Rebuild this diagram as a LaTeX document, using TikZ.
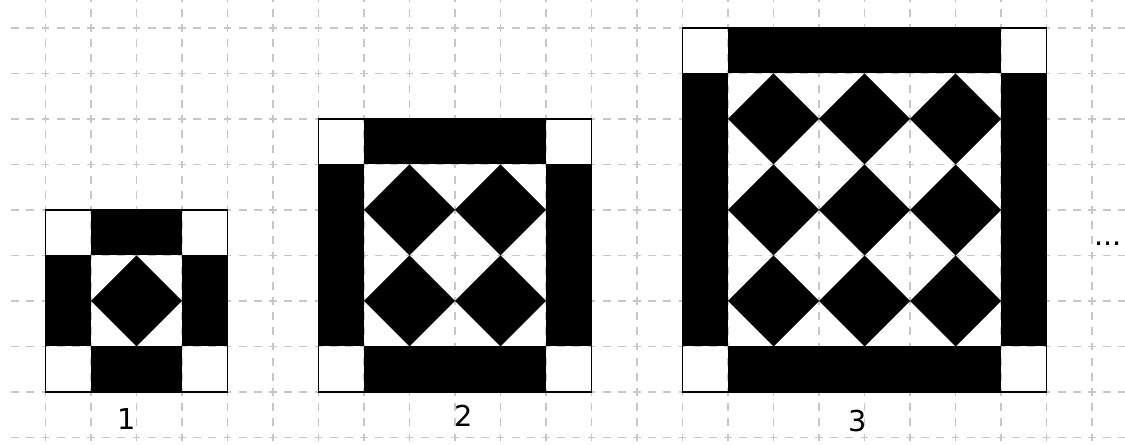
\documentclass[tikz,border=0pt]{standalone}
\usepackage{fontspec}
\setmainfont{DejaVu Sans}
\begin{document}
\begin{tikzpicture}[
  every node/.style={font=\fontsize{18}{20}\selectfont, inner sep=0pt},
  rede/.style={draw=black!22, line width=1pt, dash pattern=on 0.17cm off 0.16333cm, dash phase=0.085cm},
  barra/.style={fill=black},
  borda/.style={draw=black, line width=0.8pt}
]
\useasboundingbox (0,-1.165) rectangle (24.725,8.615);
% Grade tracejada de fundo
\begin{scope}
\clip (0.15,-1.165) rectangle (24.725,8.615);
\foreach \x in {1,...,24} \draw[rede] (\x,-2) -- (\x,9);
\foreach \y in {-1,...,8} \draw[rede] (-1,\y) -- (25,\y);
\end{scope}

% Figuras: moldura de barras pretas e losangos no interior
\foreach \n/\xo in {1/1, 2/7, 3/15}{
  \pgfmathtruncatemacro{\s}{2*\n+2}
  \fill[barra] (\xo+1,0) rectangle (\xo+\s-1,1);
  \fill[barra] (\xo+1,\s-1) rectangle (\xo+\s-1,\s);
  \fill[barra] (\xo,1) rectangle (\xo+1,\s-1);
  \fill[barra] (\xo+\s-1,1) rectangle (\xo+\s,\s-1);
  \foreach \i in {1,...,\n}
    \foreach \j in {1,...,\n}
      \fill[barra] (\xo+2*\i,2*\j-1) -- ++(1,1) -- ++(-1,1) -- ++(-1,-1) -- cycle;
  \draw[borda] (\xo,0) rectangle (\xo+\s,\s);
}

% Rotulos
\node (n1) at (2.79,-0.59) {1};
\node (n2) at (10.2,-0.53) {2};
\node (n3) at (18.86,-0.64) {3};
\node[anchor=base] (etc) at (24.35,3.23) {...};
\end{tikzpicture}
\end{document}
